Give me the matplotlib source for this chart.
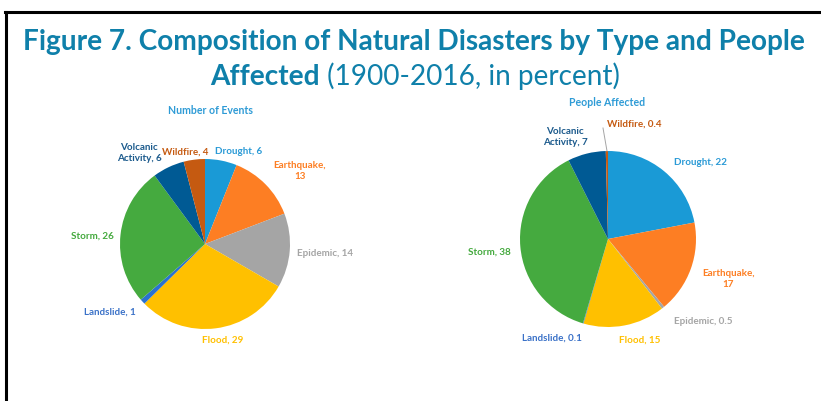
import matplotlib
matplotlib.use("Agg")
import matplotlib.pyplot as plt
from matplotlib.lines import Line2D

# data
categories = ['Drought', 'Earthquake', 'Epidemic', 'Flood', 'Landslide',
              'Storm', 'Volcanic\nActivity', 'Wildfire']
events = [6, 13, 14, 29, 1, 26, 6, 4]
people = [22, 17, 0.5, 15, 0.1, 38, 7, 0.4]

colors = ['#1A9AD6', '#FD7E23', '#A5A5A5', '#FFC000', '#2A72D0',
          '#45AA3F', '#005A94', '#C55A11']
label_colors = ['#2A9AD6', '#FD7E23', '#A5A5A5', '#FFC000', '#3B72C8',
                '#45AA3F', '#1B5A8C', '#C55A11']

W, H = 821, 402
TITLE_COLOR = '#0F80AA'

# label positions (pixels) for each pie, in category order
events_label_pos = [(239, 152), (300, 171), (325, 254), (223, 340),
                    (110, 312), (92, 236), (139, 153), (185, 152)]
people_label_pos = [(700, 163), (728, 279), (703, 322), (640, 340),
                    (552, 338), (489, 252), (565, 137), (634, 124)]
# Earthquake label wraps after the comma
label_breaks = {1: ',\n'}


def fx(x):
    return x / W


def fy(y):
    return 1 - y / H


def fmt(v):
    return f'{v:g}'


def make_label(i, v):
    sep = label_breaks.get(i, ', ')
    return f'{categories[i]}{sep}{fmt(v)}'


def draw_pie(fig, values, cx, cy, r, title, title_xy, label_pos):
    ax = fig.add_axes([fx(cx - r), fy(cy + r), 2 * r / W, 2 * r / H])
    ax.pie(values, colors=colors, startangle=90, counterclock=False,
           wedgeprops=dict(linewidth=0))
    ax.set_xlim(-1, 1)
    ax.set_ylim(-1, 1)
    ax.set_aspect('auto')
    ax.axis('off')
    fig.text(fx(title_xy[0]), fy(title_xy[1]), title, ha='center', va='center',
             fontsize=7.6, fontweight='bold', color='#2E9BD6', family='Lato')
    for i, v in enumerate(values):
        px, py = label_pos[i]
        fig.text(fx(px), fy(py), make_label(i, v), ha='center', va='center',
                 fontsize=7.1, fontweight='bold', color=label_colors[i],
                 family='Lato', linespacing=1.25)
    return ax


fig = plt.figure(figsize=(W / 100, H / 100), dpi=100)
fig.patch.set_facecolor('white')

# frame lines (top and left)
fig.add_artist(Line2D([fx(5), fx(W)], [fy(13), fy(13)], color='black', lw=2.2))
fig.add_artist(Line2D([fx(6), fx(6)], [fy(13), fy(H)], color='black', lw=2.2))

# title
renderer = fig.canvas.get_renderer()
line1 = 'Figure 7. Composition of Natural Disasters by Type and People'
t1 = fig.text(fx(414), fy(50), line1, ha='center', va='baseline',
              fontsize=20, fontweight='bold', color=TITLE_COLOR, family='Lato')
w1 = t1.get_window_extent(renderer).width
size = 20 * 783 / w1
t1.set_fontsize(size)

ta = fig.text(0, fy(85), 'Affected', ha='left', va='baseline', fontsize=size,
              fontweight='bold', color=TITLE_COLOR, family='Lato')
tb = fig.text(0, fy(85), ' (1900-2016, in percent)', ha='left', va='baseline',
              fontsize=size, color=TITLE_COLOR, family='Lato')
wa = ta.get_window_extent(renderer).width
wb = tb.get_window_extent(renderer).width
start = 415 - (wa + wb) / 2
ta.set_x(fx(start))
tb.set_x(fx(start + wa))

draw_pie(fig, events, 205, 245, 85, 'Number of Events', (210, 110),
         events_label_pos)
draw_pie(fig, people, 608, 240, 88, 'People Affected', (607, 103),
         people_label_pos)

# leader line for the tiny wildfire slice
fig.add_artist(Line2D([fx(603), fx(607)], [fy(129), fy(152)],
                      color='#A5A5A5', lw=0.7))

fig.savefig('out.png', dpi=100)
